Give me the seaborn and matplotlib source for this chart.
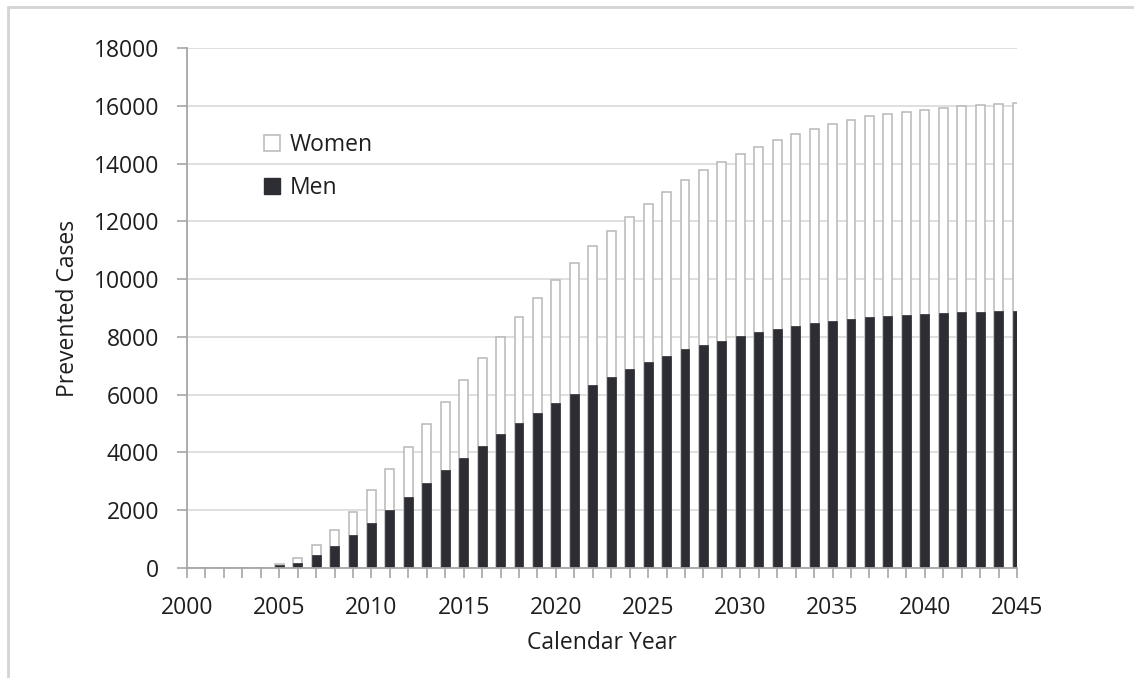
import matplotlib
matplotlib.use("Agg")
import matplotlib.pyplot as plt
import matplotlib.patches as mpatches
from matplotlib.lines import Line2D
import numpy as np
import pandas as pd
import seaborn as sns

# data
years = list(range(2000, 2046))
men = [0, 0, 0, 0, 0,
       100, 190, 450, 770, 1130, 1570, 2000, 2460, 2930, 3380,
       3810, 4220, 4640, 5020, 5380, 5720, 6040, 6350, 6620, 6890,
       7130, 7340, 7570, 7720, 7870, 8040, 8180, 8290, 8390, 8480,
       8560, 8630, 8690, 8730, 8770, 8800, 8820, 8850, 8870, 8880, 8880]
women = [0, 0, 0, 0, 0,
         30, 170, 350, 550, 810, 1130, 1420, 1740, 2040, 2370,
         2690, 3040, 3340, 3660, 3950, 4250, 4530, 4780, 5060, 5270,
         5470, 5690, 5870, 6040, 6170, 6290, 6400, 6520, 6630, 6730,
         6800, 6880, 6950, 7000, 7030, 7070, 7120, 7130, 7150, 7180, 7200]
y_ticks = list(range(0, 18001, 2000))
x_ticks = list(range(2000, 2046, 5))

df = pd.DataFrame({"year": years, "Men": men, "Women": women})
df["total"] = df["Men"] + df["Women"]

sns.set_style("white")
plt.rcParams['font.family'] = ['Open Sans', 'DejaVu Sans']

dark = '#2c2e34'
edge_gray = '#b8b8b8'
axis_gray = '#a6a6a6'
text_col = '#1e1e1e'

fig = plt.figure(figsize=(11.34, 6.78), dpi=100)
ax = fig.add_axes([187 / 1134, 1 - 568 / 678, 830 / 1134, 520 / 678])

# women stacked on men: draw the total first, then men over it
sns.barplot(data=df, x="year", y="total", native_scale=True, width=0.48,
            color='white', edgecolor=edge_gray, linewidth=1.1, saturation=1,
            ax=ax, zorder=2)
sns.barplot(data=df, x="year", y="Men", native_scale=True, width=0.48,
            color=dark, edgecolor=dark, linewidth=0.5, saturation=1,
            ax=ax, zorder=3)

ax.set_xlim(2000, 2045)
ax.set_ylim(0, 18000)
ax.set_yticks(y_ticks)
ax.set_xticks(x_ticks)
ax.set_xticks(years, minor=True)
ax.set_xticklabels([str(x) for x in x_ticks])
ax.set_yticklabels([str(y) for y in y_ticks])

ax.yaxis.grid(True, color='#d9d9d9', linewidth=1.2, zorder=0)
ax.set_axisbelow(True)

for s in ['top', 'right']:
    ax.spines[s].set_visible(False)
for s in ['left', 'bottom']:
    ax.spines[s].set_color(axis_gray)
    ax.spines[s].set_linewidth(1.3)
    ax.spines[s].set_zorder(4)

ax.tick_params(axis='both', which='both', direction='out', color=axis_gray,
               length=7, width=1.2, labelsize=16.5, labelcolor=text_col, pad=13)
ax.tick_params(axis='x', which='both', bottom=True)
ax.tick_params(axis='y', left=True)

ax.set_xlabel('Calendar Year', fontsize=16.5, color=text_col, labelpad=8)
ax.set_ylabel('Prevented Cases', fontsize=16.5, color=text_col, labelpad=10)

handles = [mpatches.Patch(facecolor='white', edgecolor=edge_gray, linewidth=1.1, label='Women'),
           mpatches.Patch(facecolor=dark, edgecolor=dark, label='Men')]
ax.legend(handles=handles, loc='upper left', bbox_to_anchor=(0.068, 0.877),
          frameon=False, fontsize=16.5, handlelength=0.7, handleheight=0.7,
          handletextpad=0.4, labelspacing=0.85, labelcolor=text_col)

# outer frame of the source figure
fig.add_artist(Line2D([8 / 1134, 8 / 1134], [0, 1 - 7 / 678], color='#d4d4d4', linewidth=2))
fig.add_artist(Line2D([8 / 1134, 1], [1 - 7 / 678, 1 - 7 / 678], color='#d4d4d4', linewidth=2))

fig.savefig('out.png', dpi=100)
